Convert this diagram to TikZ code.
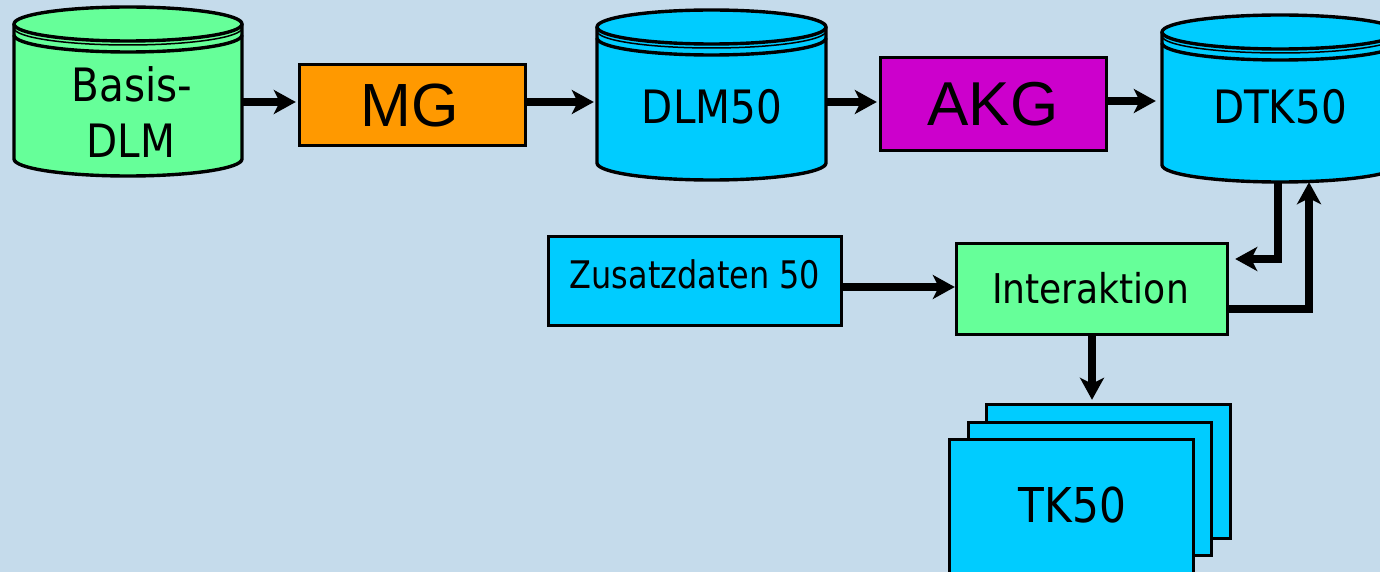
\documentclass[tikz,border=0pt]{standalone}
\usepackage{fontspec}
\setmainfont{DejaVu Sans}
\newfontfamily\tahfont[FakeStretch=0.88]{DejaVu Sans}
\newfontfamily\tahnarrow[FakeStretch=0.84]{DejaVu Sans}
\newfontfamily\arifont{Liberation Sans}
\usetikzlibrary{arrows.meta,calc}
\definecolor{bg}{RGB}{197,219,235}
\definecolor{cyanbox}{RGB}{0,204,255}
\definecolor{greenbox}{RGB}{102,255,153}
\definecolor{orangebox}{RGB}{255,153,0}
\definecolor{magbox}{RGB}{204,0,204}
\newcommand\drawcyl[5]{%
  \pgfmathsetmacro\cylcx{(#1+#2)/2}%
  \pgfmathsetmacro\cylrx{(#2-#1)/2}%
  \pgfmathsetmacro\cylya{-(#3)}%
  \pgfmathsetmacro\cylyb{-(#4)}%
  \pgfmathsetmacro\cylyr{-(#3+4)}%
  \pgfmathsetmacro\cylys{-(#3+11)}%
  \path[fill=#5] (#1,\cylya) -- (#1,\cylyb) arc[start angle=180,end angle=360,x radius=\cylrx pt,y radius=17pt] -- (#2,\cylya) -- cycle;
  \draw[outl] (#1,\cylya) -- (#1,\cylyb) arc[start angle=180,end angle=360,x radius=\cylrx pt,y radius=17pt] -- (#2,\cylya);
  \draw[outl,fill=#5] (\cylcx,\cylya) ellipse[x radius=\cylrx pt,y radius=17pt];
  \draw[line width=1.5pt] (#1,\cylyr) arc[start angle=180,end angle=360,x radius=\cylrx pt,y radius=17pt];
  \draw[outl] (#1,\cylys) arc[start angle=180,end angle=360,x radius=\cylrx pt,y radius=17pt];
}
\begin{document}
\begin{tikzpicture}[x=1pt,y=1pt,
  outl/.style={line width=3.4pt,line join=round},
  box/.style={draw,line width=3.4pt,inner sep=0pt,anchor=center},
  area/.style={inner sep=0pt,anchor=center},
  conn/.style={line width=7.5pt,-{Stealth[length=22pt,width=24pt,inset=6pt]}},
  lbl/.style={inner sep=0pt,anchor=base},
]
\clip (0,0) rectangle (1380,-572);
\fill[bg] (0,0) rectangle (1380,-572);

% cylinders
\drawcyl{14}{242}{24}{159}{greenbox}
\drawcyl{597}{826}{27}{163}{cyanbox}
\drawcyl{1162}{1398}{32}{165}{cyanbox}
\node[area,minimum width=228,minimum height=169] (basis) at (128,-91.5) {};
\node[area,minimum width=229,minimum height=170] (dlm) at (711.5,-95) {};
\node[area,minimum width=236,minimum height=167] (dtk) at (1280,-98.5) {};

% boxes
\node[box,fill=orangebox,minimum width=226,minimum height=81] (mg) at (412.5,-105) {};
\node[box,fill=magbox,minimum width=226,minimum height=93] (akg) at (993.5,-104) {};
\node[box,fill=cyanbox,minimum width=293,minimum height=89] (zus) at (695,-281) {};
\node[box,fill=greenbox,minimum width=271,minimum height=91] (inter) at (1092,-289) {};

% stacked sheets
\node[box,fill=cyanbox,minimum width=244,minimum height=134] (tkback) at (1108.5,-471.5) {};
\node[box,fill=cyanbox,minimum width=243,minimum height=133] (tkmid) at (1090,-489) {};
\node[box,fill=cyanbox,minimum width=244,minimum height=137] (tkfront) at (1071.5,-508) {};

% labels
\node[lbl,font=\tahfont\fontsize{46}{56}\selectfont] (basistxt) at (132,-102) {Basis-};
\node[lbl,font=\tahfont\fontsize{46}{56}\selectfont] (dlmtxt) at (131,-158) {DLM};
\node[lbl,font=\tahfont\fontsize{46}{56}\selectfont] (dlmlbl) at (712,-124) {DLM50};
\node[lbl,font=\tahfont\fontsize{46}{56}\selectfont] (dtklbl) at (1280,-124) {DTK50};
\node[lbl,font=\arifont\fontsize{61}{70}\selectfont] (mglbl) at (409.5,-127) {MG};
\node[lbl,font=\arifont\fontsize{62}{70}\selectfont] (akglbl) at (993,-126) {AKG};
\node[lbl,font=\tahnarrow\fontsize{38}{44}\selectfont] (zuslbl) at (695,-288) {Zusatzdaten 50};
\node[lbl,font=\tahfont\fontsize{41}{48}\selectfont] (interlbl) at (1090.5,-303) {Interaktion};
\node[lbl,font=\tahfont\fontsize{48}{56}\selectfont] (tklbl) at (1072.5,-522) {TK50};

% connectors
\draw[conn,shorten >=2pt] (basis.east |- 0,-102) -- (mg.west |- 0,-102);
\draw[conn,shorten >=3pt] (mg.east |- 0,-102) -- (dlm.west |- 0,-102);
\draw[conn,shorten >=2pt] (dlm.east |- 0,-102) -- (akg.west |- 0,-102);
\draw[conn,shorten >=6pt] (akg.east |- 0,-101) -- (dtk.west |- 0,-101);
\draw[conn] (zus.east |- 0,-287) -- (inter.west |- 0,-287);
\draw[conn,shorten >=6pt] (dtk.south -| 1278,0) |- (inter.east |- 0,-259);
\draw[conn] (inter.east |- 0,-309) -| (dtk.south -| 1309,0);
\draw[conn,shorten >=3pt] (inter.south) -- (inter.south |- tkback.north);
\end{tikzpicture}
\end{document}
